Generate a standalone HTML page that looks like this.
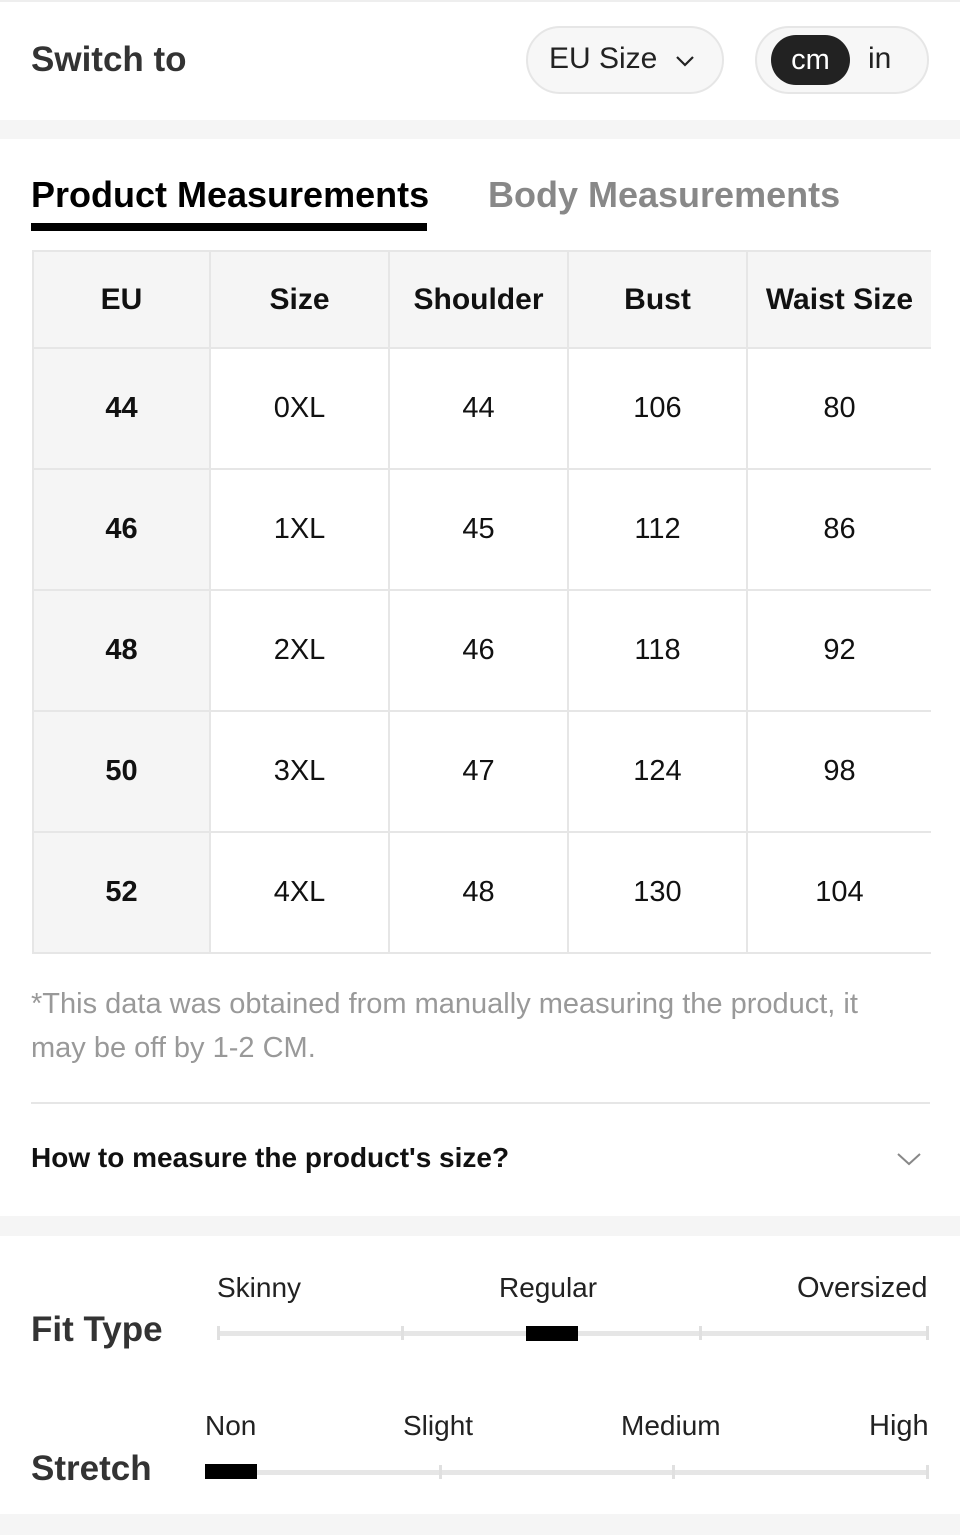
<!DOCTYPE html>
<html><head><meta charset="utf-8"><style>
*{margin:0;padding:0;box-sizing:border-box}
body{width:960px;height:1535px;background:#fff;font-family:"Liberation Sans",Arial,sans-serif;position:relative;overflow:hidden;color:#222}
.abs{position:absolute}
.band{position:absolute;left:0;width:960px;background:#f5f5f5}
.pill{position:absolute;border:2px solid #e6e6e6;background:#f7f7f7;border-radius:34px}
table{position:absolute;left:32px;top:250px;border-collapse:collapse;width:898px;table-layout:fixed}
td{border:2px solid #e6e6e6;text-align:center;font-size:29px;color:#111}
tr.h td{background:#f5f5f5;font-weight:bold;height:97px;font-size:30px}
tr.r td{height:121px}
tr.r td:first-child{background:#f5f5f5;font-weight:bold}
td:last-child{border-right:none}
.line{position:absolute;height:5px;background:#e6e6e6}
.tick{position:absolute;width:3px;height:14px;background:#e0e0e0}
.blk{position:absolute;background:#000;height:15px;width:52px}
.lab{position:absolute;font-size:28px;color:#222}
</style></head><body>
<div class="band" style="top:0;height:2px;background:#eee"></div>
<div class="abs" style="left:31px;top:40px;font-size:35px;font-weight:bold;color:#333">Switch to</div>
<div class="pill" style="left:526px;top:26px;width:198px;height:68px"></div>
<div class="abs" style="left:549px;top:42px;font-size:30px;color:#222">EU Size</div>
<svg class="abs" style="left:674px;top:53px" width="22" height="16"><polyline points="3,4 11,12 19,4" fill="none" stroke="#222" stroke-width="2.2"/></svg>
<div class="pill" style="left:755px;top:26px;width:174px;height:68px"></div>
<div class="abs" style="left:771px;top:35px;width:79px;height:50px;background:#222;border-radius:25px;color:#fff;font-size:29px;text-align:center;line-height:50px">cm</div>
<div class="abs" style="left:868px;top:42px;font-size:30px;color:#222">in</div>
<div class="band" style="top:120px;height:19px"></div>
<div class="abs" style="left:31px;top:174px;font-size:36px;font-weight:bold;color:#000">Product Measurements</div>
<div class="abs" style="left:31px;top:223px;width:396px;height:8px;background:#000"></div>
<div class="abs" style="left:488px;top:174px;font-size:36px;font-weight:bold;color:#888">Body Measurements</div>
<table>
<colgroup><col style="width:177px"><col style="width:179px"><col style="width:179px"><col style="width:179px"><col style="width:184px"></colgroup>
<tr class="h"><td>EU</td><td>Size</td><td>Shoulder</td><td>Bust</td><td>Waist Size</td></tr>
<tr class="r"><td>44</td><td>0XL</td><td>44</td><td>106</td><td>80</td></tr>
<tr class="r"><td>46</td><td>1XL</td><td>45</td><td>112</td><td>86</td></tr>
<tr class="r"><td>48</td><td>2XL</td><td>46</td><td>118</td><td>92</td></tr>
<tr class="r"><td>50</td><td>3XL</td><td>47</td><td>124</td><td>98</td></tr>
<tr class="r"><td>52</td><td>4XL</td><td>48</td><td>130</td><td>104</td></tr>
</table>
<div class="abs" style="left:31px;top:982px;width:885px;font-size:29px;line-height:44px;color:#999">*This data was obtained from manually measuring the product, it may be off by 1-2 CM.</div>
<div class="abs" style="left:31px;top:1102px;width:899px;height:2px;background:#e6e6e6"></div>
<div class="abs" style="left:31px;top:1142px;font-size:28px;font-weight:bold;color:#111">How to measure the product's size?</div>
<svg class="abs" style="left:896px;top:1150px" width="26" height="18"><polyline points="2,4 13,14 24,4" fill="none" stroke="#888" stroke-width="2"/></svg>
<div class="band" style="top:1216px;height:20px"></div>
<div class="abs" style="left:31px;top:1310px;font-size:35px;font-weight:bold;color:#333">Fit Type</div>
<div class="lab" style="left:217px;top:1272px">Skinny</div>
<div class="lab" style="left:499px;top:1272px">Regular</div>
<div class="lab" style="left:797px;top:1272px;font-size:29px">Oversized</div>
<div class="line" style="left:218px;top:1331px;width:711px"></div>
<div class="tick" style="left:217px;top:1326px"></div>
<div class="tick" style="left:401px;top:1326px"></div>
<div class="tick" style="left:699px;top:1326px"></div>
<div class="tick" style="left:926px;top:1326px"></div>
<div class="blk" style="left:526px;top:1326px"></div>
<div class="abs" style="left:31px;top:1449px;font-size:35px;font-weight:bold;color:#333">Stretch</div>
<div class="lab" style="left:205px;top:1410px">Non</div>
<div class="lab" style="left:403px;top:1410px">Slight</div>
<div class="lab" style="left:621px;top:1410px">Medium</div>
<div class="lab" style="left:869px;top:1410px;font-size:29px">High</div>
<div class="line" style="left:205px;top:1470px;width:724px"></div>
<div class="tick" style="left:439px;top:1465px"></div>
<div class="tick" style="left:672px;top:1465px"></div>
<div class="tick" style="left:926px;top:1465px"></div>
<div class="blk" style="left:205px;top:1464px"></div>
<div class="band" style="top:1514px;height:21px"></div>
</body></html>
